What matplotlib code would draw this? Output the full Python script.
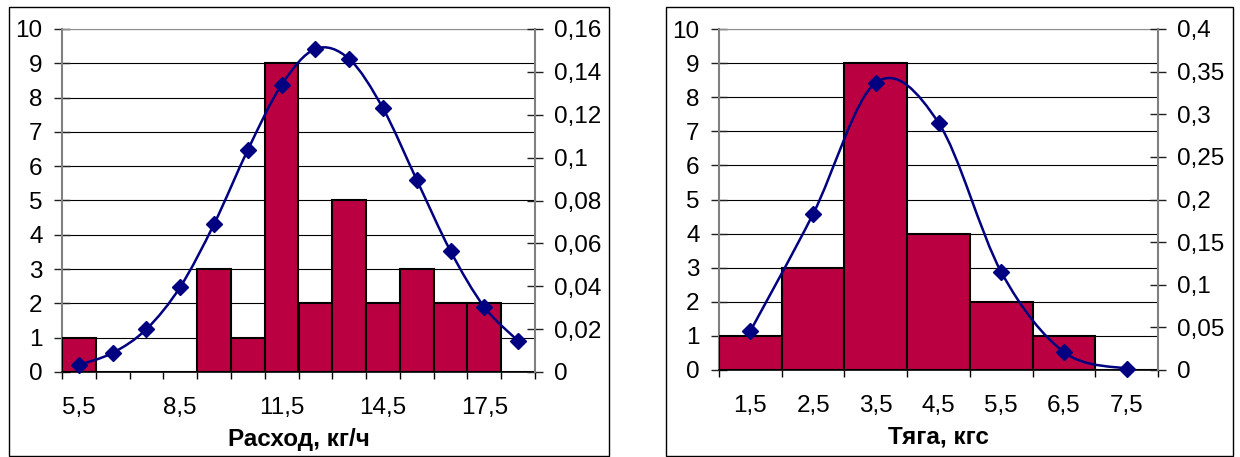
import numpy as np
import matplotlib
matplotlib.use("Agg")
import matplotlib.pyplot as plt
from matplotlib.path import Path
from matplotlib.patches import PathPatch, Rectangle

plt.rcParams['font.family'] = ['Liberation Sans', 'DejaVu Sans']

# Fuel consumption histogram and fitted density
rashod_labels = ["5,5", "6,5", "7,5", "8,5", "9,5", "10,5", "11,5", "12,5",
                 "13,5", "14,5", "15,5", "16,5", "17,5", "18,5"]
rashod_counts = [1, 0, 0, 0, 3, 1, 9, 2, 5, 2, 3, 2, 2, 0]
rashod_density = [0.0033, 0.0089, 0.020, 0.0397, 0.069, 0.1036, 0.134,
                  0.1507, 0.146, 0.123, 0.0896, 0.0564, 0.0303, 0.0145]

# Thrust histogram and fitted density
tyaga_labels = ["1,5", "2,5", "3,5", "4,5", "5,5", "6,5", "7,5"]
tyaga_counts = [1, 3, 9, 4, 2, 1, 0]
tyaga_density = [0.0457, 0.183, 0.337, 0.290, 0.115, 0.021, 0.0015]

BAR = "#BB0042"
LINE = "#000080"
W, H = 1240, 457


def smooth_path(x, y):
    # Excel-like smoothed line: Catmull-Rom segments as cubic Beziers
    x = np.asarray(x, float)
    y = np.asarray(y, float)
    px = np.concatenate([[x[0]], x, [x[-1]]])
    py = np.concatenate([[y[0]], y, [y[-1]]])
    verts = [(x[0], y[0])]
    codes = [Path.MOVETO]
    for i in range(1, len(px) - 2):
        c1 = (px[i] + (px[i + 1] - px[i - 1]) / 6, py[i] + (py[i + 1] - py[i - 1]) / 6)
        c2 = (px[i + 1] - (px[i + 2] - px[i]) / 6, py[i + 1] - (py[i + 2] - py[i]) / 6)
        verts += [c1, c2, (px[i + 1], py[i + 1])]
        codes += [Path.CURVE4] * 3
    return Path(verts, codes)


def fmt(v):
    s = ("%.2f" % v).rstrip("0").rstrip(".")
    return s.replace(".", ",")


def panel(fig, box, area, labels, counts, density, label_every, y2max, y2step, xlabel):
    # outer frame
    bx0, bx1, by0, by1 = box
    fig.patches.append(Rectangle((bx0 / W, 1 - by1 / H), (bx1 - bx0) / W, (by1 - by0) / H,
                                 transform=fig.transFigure, fill=False,
                                 edgecolor="black", linewidth=1.0))
    x0, x1, ytop, ybot = area
    ax = fig.add_axes([x0 / W, 1 - ybot / H, (x1 - x0) / W, (ybot - ytop) / H])
    n = len(counts)
    pos = np.arange(n)
    ax.bar(pos, counts, width=1.0, color=BAR, edgecolor="black", linewidth=1.5, zorder=3)
    ax.set_xlim(-0.5, n - 0.5)
    ax.set_ylim(0, 10)
    ax.set_yticks(range(0, 11))
    ax.grid(axis="y", color="black", linewidth=0.8, zorder=0)
    ax.set_axisbelow(True)
    ax.set_xticks(np.arange(n + 1) - 0.5, minor=True)
    ax.set_xticks(pos[::label_every])
    ax.set_xticklabels(labels[::label_every])
    ax.tick_params(axis="x", which="major", length=0, pad=18, labelsize=17.5)
    ax.tick_params(axis="x", which="minor", length=5, width=1.0, direction="out")
    ax.tick_params(axis="y", direction="inout", length=12, width=1.0, pad=8,
                   labelsize=17.5, color="#202020")
    ax.spines["left"].set_color("#808080")
    ax.spines["left"].set_linewidth(1.5)
    ax.spines["bottom"].set_linewidth(1.2)
    ax.spines["top"].set_color("#909090")
    ax.spines["right"].set_visible(False)
    ax.set_xlabel(xlabel, fontsize=17.5, fontweight="bold")
    ax.xaxis.set_label_coords(0.5, -0.163)

    ax2 = ax.twinx()
    ax2.set_ylim(0, y2max)
    ticks = np.arange(0, y2max + y2step / 2, y2step)
    ax2.set_yticks(ticks)
    ax2.set_yticklabels([fmt(t) for t in ticks])
    ax2.tick_params(axis="y", direction="inout", length=12, width=1.0, pad=8,
                    labelsize=17.5, color="#202020")
    ax2.spines["right"].set_color("#808080")
    ax2.spines["right"].set_linewidth(1.5)
    for s in ["left", "top", "bottom"]:
        ax2.spines[s].set_visible(False)
    ax2.add_patch(PathPatch(smooth_path(pos, density), fill=False,
                            edgecolor=LINE, linewidth=1.8, zorder=4, clip_on=False))
    ax2.plot(pos, density, linestyle="none", marker="D", markersize=8,
             color=LINE, zorder=5, clip_on=False)
    return ax, ax2


fig = plt.figure(figsize=(W / 100, H / 100), dpi=100)
panel(fig, (9, 609, 7, 456), (62, 535, 29, 372), rashod_labels, rashod_counts,
      rashod_density, 3, 0.16, 0.02, "Расход, кг/ч")
panel(fig, (666, 1233, 7, 456), (719, 1158, 29, 370), tyaga_labels, tyaga_counts,
      tyaga_density, 1, 0.4, 0.05, "Тяга, кгс")

fig.savefig("out.png", dpi=100)
